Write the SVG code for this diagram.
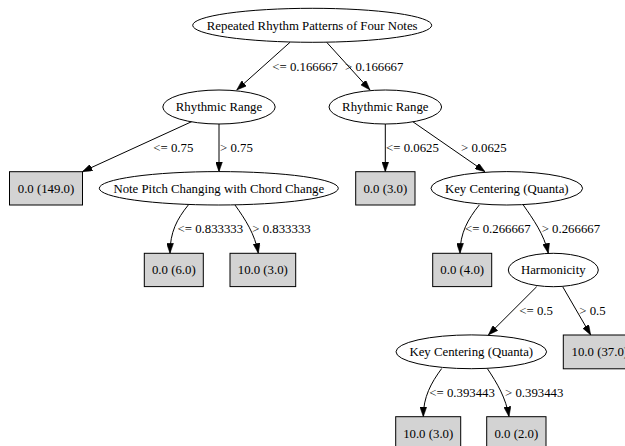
<svg xmlns="http://www.w3.org/2000/svg" width="625" height="446" viewBox="0 0 625 446">
<style>
text{font-family:"Liberation Serif","Times New Roman",serif;font-size:12.8px;fill:#000}
.n text{text-anchor:middle}
.n ellipse{fill:#fff;stroke:#000;stroke-width:1}
.n rect{fill:#d3d3d3;stroke:#000;stroke-width:1}
#edges path{fill:none;stroke:#000;stroke-width:1;marker-end:url(#arr)}
</style>
<defs>
<marker id="arr" markerUnits="userSpaceOnUse" markerWidth="10" markerHeight="7" viewBox="0 0 10 7" refX="10" refY="3.5" orient="auto">
<path d="M0,0 L10,3.5 L0,7 z" fill="#000" stroke="#000" stroke-width="0.5"/>
</marker>
</defs>
<g id="edges">
<path d="M290,42.3 L236.7,90"/>
<path d="M326.7,42.3 L370,90"/>
<path d="M192,121.5 L82.3,171.7"/>
<path d="M219,124 L219,171.7"/>
<path d="M385.3,124 L385.3,171.7"/>
<path d="M412.5,121.5 L485,171.7"/>
<path d="M188.3,205 C177,219 170,232 170,253.3"/>
<path d="M235,205 C245,219 255,234 258.3,253.3"/>
<path d="M479.3,205 C468,219 460,233 460,253.3"/>
<path d="M523.3,205 C533,219 544,234 548.3,253.3"/>
<path d="M536.7,286.7 L488.3,335"/>
<path d="M562.7,286.7 L590.7,335"/>
<path d="M441.7,368.5 C431,383 423.3,397 423.3,416.7"/>
<path d="M487.3,368.5 C497,383 506,398 509,416.7"/>
<text x="272.3" y="70.7">&lt;= 0.166667</text>
<text x="345" y="70.7">&gt; 0.166667</text>
<text x="153.3" y="151.7">&lt;= 0.75</text>
<text x="220" y="151.7">&gt; 0.75</text>
<text x="386" y="151.7">&lt;= 0.0625</text>
<text x="461" y="151.7">&gt; 0.0625</text>
<text x="177.5" y="233.3">&lt;= 0.833333</text>
<text x="252.3" y="233.3">&gt; 0.833333</text>
<text x="465" y="233.3">&lt;= 0.266667</text>
<text x="541.7" y="233.3">&gt; 0.266667</text>
<text x="519.3" y="315">&lt;= 0.5</text>
<text x="579.3" y="315">&gt; 0.5</text>
<text x="429.3" y="396.7">&lt;= 0.393443</text>
<text x="505" y="396.7">&gt; 0.393443</text>
</g>
<g id="n_root" class="n"><ellipse cx="312.2" cy="25.3" rx="119.5" ry="17"/><text x="312.2" y="29.6">Repeated Rhythm Patterns of Four Notes</text></g>
<g id="n_rr1" class="n"><ellipse cx="219" cy="107" rx="56.2" ry="17"/><text x="219" y="111.3">Rhythmic Range</text></g>
<g id="n_rr2" class="n"><ellipse cx="385.3" cy="107" rx="56.3" ry="17"/><text x="385.3" y="111.3">Rhythmic Range</text></g>
<g id="n_l1" class="n"><rect x="9.5" y="171.7" width="73" height="33.3"/><text x="46" y="192.6">0.0 (149.0)</text></g>
<g id="n_np" class="n"><ellipse cx="218.8" cy="188.3" rx="119.5" ry="16.7"/><text x="218.8" y="192.6">Note Pitch Changing with Chord Change</text></g>
<g id="n_l2" class="n"><rect x="355.7" y="171.7" width="59.3" height="33.3"/><text x="385.3" y="192.6">0.0 (3.0)</text></g>
<g id="n_kc1" class="n"><ellipse cx="506.8" cy="188.3" rx="75.8" ry="16.7"/><text x="506.8" y="192.6">Key Centering (Quanta)</text></g>
<g id="n_l3" class="n"><rect x="144.3" y="253.3" width="59" height="33.3"/><text x="173.8" y="274.3">0.0 (6.0)</text></g>
<g id="n_l4" class="n"><rect x="230" y="253.3" width="65.7" height="33.3"/><text x="262.8" y="274.3">10.0 (3.0)</text></g>
<g id="n_l5" class="n"><rect x="432.7" y="253.3" width="59" height="33.3"/><text x="462.2" y="274.3">0.0 (4.0)</text></g>
<g id="n_h" class="n"><ellipse cx="553.3" cy="270" rx="45" ry="16.7"/><text x="553.3" y="274.3">Harmonicity</text></g>
<g id="n_kc2" class="n"><ellipse cx="471.3" cy="351.8" rx="75.3" ry="16.9"/><text x="471.3" y="356.1">Key Centering (Quanta)</text></g>
<g id="n_l6" class="n"><rect x="563.3" y="335" width="73" height="33.8"/><text x="599.8" y="356.1">10.0 (37.0)</text></g>
<g id="n_l7" class="n"><rect x="395.7" y="416.7" width="65" height="33.3"/><text x="428.2" y="437.6">10.0 (3.0)</text></g>
<g id="n_l8" class="n"><rect x="486.7" y="416.7" width="59.3" height="33.3"/><text x="516.3" y="437.6">0.0 (2.0)</text></g>
</svg>
